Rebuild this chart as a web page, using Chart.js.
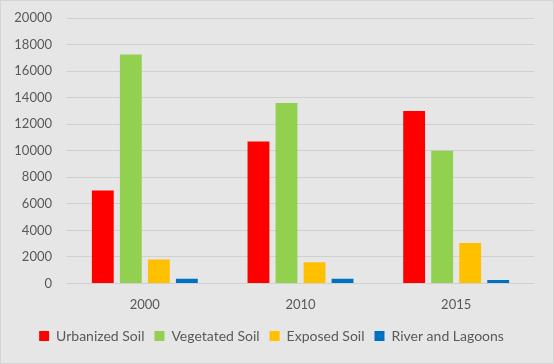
<!DOCTYPE html>
<html>
<head>
<meta charset="utf-8">
<script src="https://cdn.jsdelivr.net/npm/chart.js@4"></script>
<style>
  html, body { margin: 0; padding: 0; background: #fff; }
  #wrap { width: 552px; height: 362px; border: 1px solid #d4d4d4; background: #e7e6e6; }
</style>
</head>
<body>
<div id="wrap"><canvas id="chart" width="552" height="362"></canvas></div>
<script>
const years = ['2000', '2010', '2015'];
const urbanized = [7000, 10700, 13000];
const vegetated = [17250, 13600, 10000];
const exposed = [1800, 1600, 3050];
const rivers = [350, 350, 250];

const COLORS = { urban: '#ff0000', veg: '#92d050', exposed: '#ffc000', river: '#0070c0' };
const font = { family: 'Lato, "Open Sans", sans-serif', size: 13 };
const legendFont = { family: 'Lato, "Open Sans", sans-serif', size: 14 };

const series = [
  { label: 'Urbanized Soil', data: urbanized, color: COLORS.urban },
  { label: 'Vegetated Soil', data: vegetated, color: COLORS.veg },
  { label: 'Exposed Soil', data: exposed, color: COLORS.exposed },
  { label: 'River and Lagoons', data: rivers, color: COLORS.river },
];

Chart.defaults.font = font;
Chart.defaults.color = '#595959';

new Chart(document.getElementById('chart'), {
  type: 'bar',
  data: {
    labels: years,
    datasets: series.map(s => ({
      label: s.label,
      data: s.data,
      backgroundColor: s.color,
      categoryPercentage: 0.72,
      barPercentage: 0.78,
    })),
  },
  options: {
    responsive: false,
    animation: false,
    layout: { padding: { left: 8, right: 19, top: 17, bottom: 10 } },
    plugins: {
      tooltip: { enabled: false },
      legend: {
        position: 'bottom',
        labels: { boxWidth: 10, boxHeight: 10, padding: 10, font: legendFont },
      },
    },
    scales: {
      x: {
        grid: { display: false },
        border: { display: false },
        ticks: { font, padding: 6 },
      },
      y: {
        min: 0, max: 20000,
        ticks: { stepSize: 2000, font, padding: 15, callback: v => String(v) },
        grid: { color: '#d0d0d0', drawTicks: false },
        border: { display: false },
        afterFit: s => { s.width = 58; s.paddingTop = 0; s.paddingBottom = 0; },
      },
    },
  },
});
</script>
</body>
</html>
